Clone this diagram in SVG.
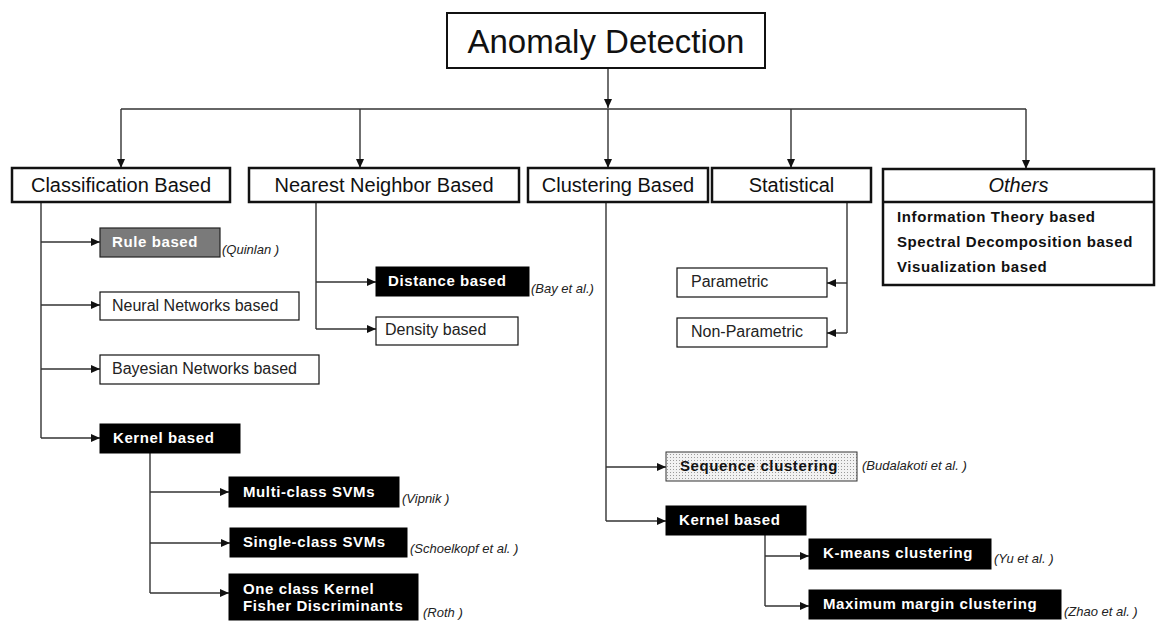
<svg xmlns="http://www.w3.org/2000/svg" width="1169" height="631" viewBox="0 0 1169 631">
<style>
  .bg{fill:#ffffff}
  .cat{fill:#ffffff;stroke:#111;stroke-width:2.5}
  .wbox{fill:#ffffff;stroke:#111;stroke-width:1.2}
  .bbox{fill:#000000;stroke:#000;stroke-width:1}
  .gbox{fill:#7a7a7a;stroke:#222;stroke-width:1.2}
  .dbox{fill:url(#dots);stroke:#333;stroke-width:1}
  .t-title{font-family:"Liberation Sans",Arial,sans-serif;font-size:33px;fill:#111;text-anchor:middle}
  .t-cat{font-family:"Liberation Sans",Arial,sans-serif;font-size:20px;fill:#111;text-anchor:middle}
  .t-reg{font-family:"Liberation Sans",Arial,sans-serif;font-size:16px;fill:#222}
  .t-bw{font-family:"Liberation Sans",Arial,sans-serif;font-size:15px;font-weight:bold;fill:#ffffff;letter-spacing:0.6px}
  .t-bk{font-family:"Liberation Sans",Arial,sans-serif;font-size:15px;font-weight:bold;fill:#111;letter-spacing:0.6px}
  .t-ref{font-family:"Liberation Sans",Arial,sans-serif;font-size:13px;font-style:italic;fill:#222}
  .t-oth{font-family:"Liberation Sans",Arial,sans-serif;font-size:20px;font-style:italic;fill:#111;text-anchor:middle}
  .c{fill:none;stroke:#333;stroke-width:1.4}
  .ca{fill:none;stroke:#333;stroke-width:1.4;marker-end:url(#ah)}
</style>
<defs>
  <marker id="ah" markerUnits="userSpaceOnUse" markerWidth="9" markerHeight="8" refX="9" refY="4" orient="auto">
    <path d="M0,0 L9,4 L0,8 z" fill="#111"/>
  </marker>
  <pattern id="dots" width="3" height="3" patternUnits="userSpaceOnUse">
    <rect width="3" height="3" fill="#f2f2f2"/>
    <rect x="1" y="1" width="1" height="1" fill="#9a9a9a"/>
  </pattern>
</defs>
<rect class="bg" x="0" y="0" width="1169" height="631"/>

<g id="connectors">
  <path class="ca" d="M608,68 V108"/>
  <path class="c" d="M121,109 H1026"/>
  <path class="ca" d="M121,109 V168"/>
  <path class="ca" d="M360,109 V168"/>
  <path class="ca" d="M608,109 V168"/>
  <path class="ca" d="M791,109 V168"/>
  <path class="ca" d="M1026,109 V169"/>
  <!-- classification -->
  <path class="c" d="M41,202 V438"/>
  <path class="ca" d="M41,242 H100"/>
  <path class="ca" d="M41,305 H100"/>
  <path class="ca" d="M41,369 H100"/>
  <path class="ca" d="M41,438 H100"/>
  <path class="c" d="M150,453 V593"/>
  <path class="ca" d="M150,492 H229"/>
  <path class="ca" d="M150,543 H230"/>
  <path class="ca" d="M150,593 H229"/>
  <!-- nearest neighbor -->
  <path class="c" d="M316,202 V329"/>
  <path class="ca" d="M316,282 H376"/>
  <path class="ca" d="M316,329 H376"/>
  <!-- clustering -->
  <path class="c" d="M606,202 V521"/>
  <path class="ca" d="M606,467 H666"/>
  <path class="ca" d="M606,521 H666"/>
  <path class="c" d="M765,535 V606"/>
  <path class="ca" d="M765,556 H809"/>
  <path class="ca" d="M765,606 H809"/>
  <!-- statistical -->
  <path class="c" d="M847,202 V333"/>
  <path class="ca" d="M847,283 H827"/>
  <path class="ca" d="M847,333 H827"/>
</g>

<g id="anomaly-detection">
  <rect x="447" y="13" width="318" height="55" fill="#fff" stroke="#111" stroke-width="2"/>
  <text class="t-title" x="606" y="53">Anomaly Detection</text>
</g>

<g id="classification-based">
  <rect class="cat" x="12" y="168" width="218" height="34"/>
  <text class="t-cat" x="121" y="192">Classification Based</text>
</g>
<g id="nearest-neighbor-based">
  <rect class="cat" x="249" y="168" width="270" height="34"/>
  <text class="t-cat" x="384" y="192">Nearest Neighbor Based</text>
</g>
<g id="clustering-based">
  <rect class="cat" x="528" y="168" width="180" height="34"/>
  <text class="t-cat" x="618" y="192">Clustering Based</text>
</g>
<g id="statistical">
  <rect class="cat" x="712" y="168" width="159" height="34"/>
  <text class="t-cat" x="791.5" y="192">Statistical</text>
</g>
<g id="others">
  <rect class="cat" x="883" y="169" width="271" height="116"/>
  <line x1="883" y1="202" x2="1154" y2="202" stroke="#111" stroke-width="2.5"/>
  <text class="t-oth" x="1018.5" y="192">Others</text>
  <text class="t-bk" x="897" y="222">Information Theory based</text>
  <text class="t-bk" x="897" y="247">Spectral Decomposition based</text>
  <text class="t-bk" x="897" y="272">Visualization based</text>
</g>

<g id="rule-based">
  <rect class="gbox" x="100" y="228" width="120" height="29"/>
  <text class="t-bw" x="112" y="247" fill="#f4f4f4">Rule based</text>
  <text class="t-ref" x="222" y="254">(Quinlan )</text>
</g>
<g id="neural-networks-based">
  <rect class="wbox" x="100" y="292" width="199" height="28"/>
  <text class="t-reg" x="112" y="311">Neural Networks based</text>
</g>
<g id="bayesian-networks-based">
  <rect class="wbox" x="100" y="355" width="219" height="29"/>
  <text class="t-reg" x="112" y="374">Bayesian Networks based</text>
</g>
<g id="kernel-based-classification">
  <rect class="bbox" x="100" y="424" width="140" height="29"/>
  <text class="t-bw" x="113" y="443">Kernel based</text>
</g>
<g id="multi-class-svms">
  <rect class="bbox" x="229" y="477" width="170" height="30"/>
  <text class="t-bw" x="243" y="497">Multi-class SVMs</text>
  <text class="t-ref" x="402" y="503">(Vipnik )</text>
</g>
<g id="single-class-svms">
  <rect class="bbox" x="230" y="528" width="177" height="29"/>
  <text class="t-bw" x="243" y="547">Single-class SVMs</text>
  <text class="t-ref" x="410" y="553">(Schoelkopf et al. )</text>
</g>
<g id="one-class-kfd">
  <rect class="bbox" x="229" y="574" width="189" height="46"/>
  <text class="t-bw" x="243" y="594">One class Kernel</text>
  <text class="t-bw" x="243" y="611">Fisher Discriminants</text>
  <text class="t-ref" x="423" y="617">(Roth )</text>
</g>

<g id="distance-based">
  <rect class="bbox" x="376" y="267" width="153" height="29"/>
  <text class="t-bw" x="388" y="286">Distance based</text>
  <text class="t-ref" x="531" y="293">(Bay et al.)</text>
</g>
<g id="density-based">
  <rect class="wbox" x="376" y="317" width="142" height="28"/>
  <text class="t-reg" x="385" y="335">Density based</text>
</g>

<g id="parametric">
  <rect class="wbox" x="677" y="268" width="150" height="29"/>
  <text class="t-reg" x="691" y="287">Parametric</text>
</g>
<g id="non-parametric">
  <rect class="wbox" x="677" y="318" width="150" height="29"/>
  <text class="t-reg" x="691" y="337">Non-Parametric</text>
</g>

<g id="sequence-clustering">
  <rect class="dbox" x="666" y="452" width="191" height="29"/>
  <text class="t-bk" x="680" y="471">Sequence clustering</text>
  <text class="t-ref" x="862" y="470">(Budalakoti et al. )</text>
</g>
<g id="kernel-based-clustering">
  <rect class="bbox" x="666" y="506" width="140" height="29"/>
  <text class="t-bw" x="679" y="525">Kernel based</text>
</g>
<g id="k-means-clustering">
  <rect class="bbox" x="809" y="539" width="182" height="30"/>
  <text class="t-bw" x="823" y="558">K-means clustering</text>
  <text class="t-ref" x="994" y="563">(Yu et al. )</text>
</g>
<g id="maximum-margin-clustering">
  <rect class="bbox" x="809" y="590" width="252" height="29"/>
  <text class="t-bw" x="823" y="609">Maximum margin clustering</text>
  <text class="t-ref" x="1064" y="616">(Zhao et al. )</text>
</g>
</svg>
